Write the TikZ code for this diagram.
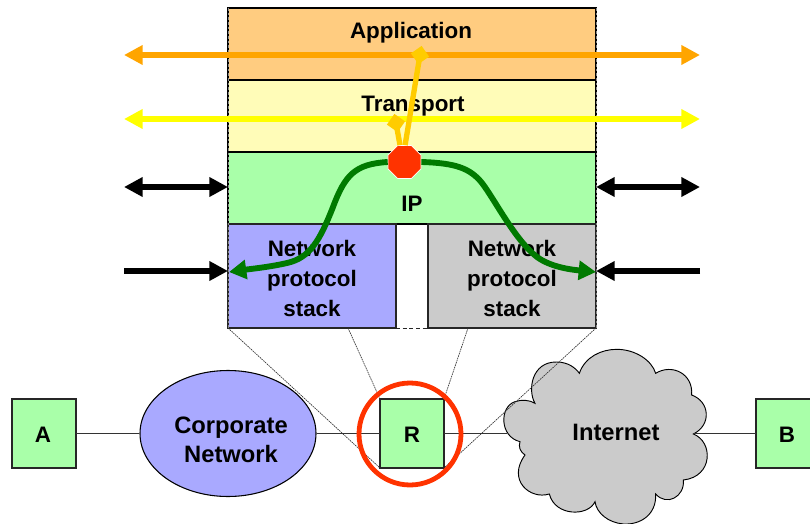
\documentclass[tikz,border=0pt]{standalone}
\usepackage{fontspec}
\setmainfont{Liberation Sans}
\usetikzlibrary{arrows.meta,shapes.geometric}
\definecolor{appfill}{HTML}{FFCC80}
\definecolor{transfill}{HTML}{FFFCB8}
\definecolor{ipfill}{HTML}{A9FFA9}
\definecolor{bluefill}{HTML}{A9A9FF}
\definecolor{grayfill}{HTML}{CBCBCB}
\definecolor{orangeline}{HTML}{FFA500}
\definecolor{yellowline}{HTML}{FFFF00}
\definecolor{goldline}{HTML}{FFCC00}
\definecolor{redstop}{HTML}{FF3300}
\definecolor{greenline}{HTML}{007A00}
\tikzset{
  layerbox/.style={draw=black,line width=.9pt,inner sep=0pt,outer sep=0pt,minimum width=276pt,minimum height=54pt},
  stackbox/.style={draw=black!85,line width=.9pt,inner sep=0pt,outer sep=0pt,minimum width=126pt,minimum height=78pt},
  hostbox/.style={draw=black!85,fill=ipfill,line width=.9pt,inner sep=0pt,outer sep=0pt,minimum width=48pt,minimum height=51.75pt},
  lbl/.style={font=\fontsize{16.8}{22.5}\selectfont\bfseries,align=center,inner sep=0pt,text=black},
  biglbl/.style={font=\fontsize{17.8}{21.75}\selectfont\bfseries,align=center,inner sep=0pt,text=black},
  bigarrow/.style={line width=4.6pt,-{Triangle[length=14pt,width=14pt]}},
  twoarrow/.style={line width=4.6pt,{Triangle[length=14pt,width=14pt]}-{Triangle[length=14pt,width=14pt]}},
  greenarrow/.style={draw=greenline,line width=4.4pt,-{Triangle[length=13pt,width=14pt]}},
  goldconn/.style={draw=goldline,line width=4pt},
  goldend/.style={diamond,fill=goldline,inner sep=0pt,minimum width=14pt,minimum height=14pt},
  thinconn/.style={draw=black!80,line width=.9pt},
  zoomline/.style={draw=black!80,line width=.5pt,dash pattern=on 1.2pt off .6pt},
  edgedash/.style={draw=black!45,line width=.5pt,dash pattern=on 2pt off 1.5pt}
}
\begin{document}
\begin{tikzpicture}[x=.75pt,y=-.75pt]
\useasboundingbox (0,0) rectangle (810,524);
\clip (0,0) rectangle (810,524);

% protocol layers
\node[layerbox,fill=appfill] (app) at (412,44) {};
\node[layerbox,fill=transfill] (trans) at (412,116) {};
\node[layerbox,fill=ipfill] (ip) at (412,188) {};
\node[stackbox,fill=bluefill] (stackL) at (312,276) {};
\node[stackbox,fill=grayfill] (stackR) at (512,276) {};
\draw[black!85,line width=.6pt,dash pattern=on 3pt off 2pt] (stackL.south east) -- (stackR.south west);
\draw[edgedash] (app.north west) -- (stackL.south west);
\draw[edgedash] (app.north east) -- (stackR.south east);

\node[lbl] (appT) at (411,33) {Application};
\node[lbl] (transT) at (413,106) {Transport};
\node[lbl] (ipT) at (412,204) {IP};
\node[lbl] (stackLT) at (312,278) {Network\\protocol\\stack};
\node[lbl] (stackRT) at (512,278) {Network\\protocol\\stack};

% free ends of arrows
\coordinate (oL) at (124,55);
\coordinate (oR) at (700,55);
\coordinate (yL) at (124,119);
\coordinate (yR) at (700,119);
\coordinate (bL1) at (124,187);
\coordinate (bL1e) at (228,187);
\coordinate (bR1) at (700,187);
\coordinate (bR1e) at (596,187);
\coordinate (bL2) at (124,271);
\coordinate (bL2e) at (228,271);
\coordinate (bR2) at (700,271);
\coordinate (bR2e) at (596,271);

\draw[orangeline,bigarrow] (412,55) -- (oL);
\draw[orangeline,bigarrow] (412,55) -- (oR);
\draw[yellowline,bigarrow] (412,119) -- (yL);
\draw[yellowline,bigarrow] (412,119) -- (yR);
\draw[black,twoarrow] (bL1) -- (bL1e);
\draw[black,twoarrow] (bR1e) -- (bR1);
\draw[black,bigarrow] (bL2) -- (bL2e);
\draw[black,bigarrow] (bR2) -- (bR2e);

% router core
\node[goldend,rotate=-10] (goldA) at (420,55) {};
\node[goldend,rotate=10] (goldB) at (396,123) {};
\node[regular polygon,regular polygon sides=8,fill=redstop,draw=white,line width=.5pt,inner sep=0pt,minimum size=26.8pt] (stop) at (404.5,162) {};
\draw[goldconn] (stop.88) -- (goldA.center);
\draw[goldconn] (stop.105) -- (goldB.center);
\coordinate (tipL) at (229,272);
\coordinate (tipR) at (596,272);
\draw[greenarrow] (stop.west) .. controls (355,164) and (345,175) .. (333,207)
  .. controls (320,240) and (310,258) .. (287,263)
  .. controls (270,267) and (250,269) .. (tipL);
\draw[greenarrow] (stop.east) .. controls (455,163) and (470,168) .. (482,183)
  .. controls (495,200) and (515,240) .. (537,257)
  .. controls (552,268) and (575,270) .. (tipR);

% network row
\node[hostbox] (A) at (44,433.5) {};
\node[hostbox] (R) at (412,433.5) {};
\node[hostbox] (B) at (788,433.5) {};
\node[ellipse,draw=black,fill=bluefill,line width=.8pt,inner sep=0pt,minimum width=132pt,minimum height=94.5pt] (corp) at (228,433.5) {};
\begin{scope}[shift={(490,340)},x=.25pt,y=-.25pt]
\draw[black,line width=.7pt,fill=grayfill]
  (135,190) .. controls (112,150) and (125,65) .. (200,66)
  .. controls (235,66) and (258,85) .. (268,100)
  .. controls (285,50) and (335,28) .. (380,28)
  .. controls (435,28) and (485,60) .. (497,100)
  .. controls (545,70) and (610,100) .. (605,165)
  .. controls (660,185) and (665,255) .. (610,282)
  .. controls (670,305) and (670,410) .. (580,420)
  .. controls (585,470) and (530,500) .. (497,462)
  .. controls (500,525) and (450,555) .. (400,552)
  .. controls (355,548) and (320,520) .. (315,485)
  .. controls (295,530) and (195,530) .. (178,462)
  .. controls (120,480) and (50,420) .. (105,345)
  .. controls (90,335) and (85,320) .. (90,305)
  .. controls (28,290) and (28,200) .. (75,185)
  .. controls (95,178) and (120,180) .. (135,190) -- cycle;
\end{scope}
\coordinate (cloudW) at (507,433.5);
\coordinate (cloudE) at (693,433.5);
\draw[thinconn] (A.east) -- (corp.west);
\draw[thinconn] (corp.east) -- (R.west);
\draw[thinconn] (R.east) -- (cloudW);
\draw[thinconn] (cloudE) -- (B.west);

\node[lbl] (AT) at (43,435) {A};
\node[lbl] (RT) at (412,435) {R};
\node[lbl] (BT) at (787,435) {B};
\node[biglbl] (corpT) at (231,440) {Corporate\\Network};
\node[biglbl] (inet) at (616,432) {Internet};

% zoom lines
\draw[zoomline] (stackL.south west) -- (R.south west);
\draw[zoomline] (348,328) -- (R.north west);
\draw[zoomline] (468,328) -- (R.north east);
\draw[zoomline] (stackR.south east) -- (R.south east);

% highlight
\node[circle,draw=redstop,line width=3.6pt,inner sep=0pt,minimum size=76.5pt] (ring) at (410,434) {};
\end{tikzpicture}
\end{document}
